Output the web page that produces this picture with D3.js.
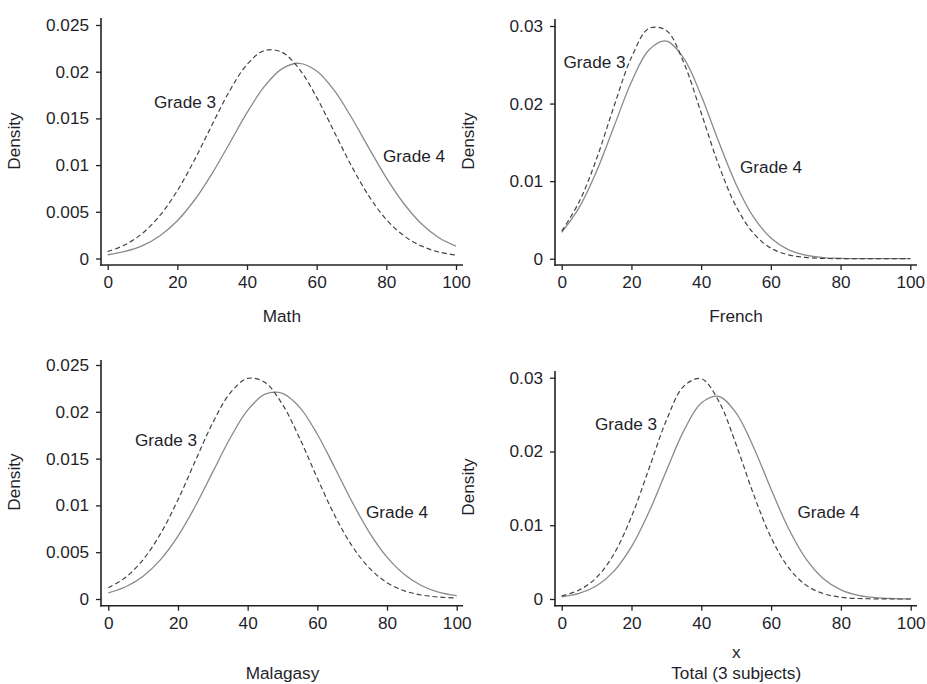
<!DOCTYPE html>
<html>
<head>
<meta charset="utf-8">
<script src="https://cdn.jsdelivr.net/npm/d3@7"></script>
<style>
  html, body { margin: 0; padding: 0; background: #fff; }
  svg { display: block; font-family: "Liberation Sans", Arial, sans-serif; }
</style>
</head>
<body>
<svg id="chart" width="927" height="684"></svg>
<script>
// ---- Data ----
const scoreGrid = [0,5,10,15,20,25,30,35,40,45,50,55,60,65,70,75,80,85,90,95,100];
const xTicks = [0, 20, 40, 60, 80, 100];

const mathGrade3 = [0.00074,0.00147,0.00271,0.00461,0.00727,0.01061,0.01434,0.01794,0.02077,0.02226,0.02209,0.02029,0.01725,0.01359,0.00990,0.00668,0.00417,0.00245,0.00135,0.00070,0.00036];
const mathGrade4 = [0.00040,0.00075,0.00137,0.00244,0.00405,0.00629,0.00912,0.01234,0.01561,0.01842,0.02030,0.02090,0.02008,0.01802,0.01510,0.01182,0.00863,0.00589,0.00375,0.00225,0.00132];

const frenchGrade3 = [0.00355,0.00732,0.01288,0.01964,0.02594,0.02968,0.02943,0.02528,0.01881,0.01213,0.00677,0.00328,0.00137,0.00050,0.00016,0.00004,0.00001,0,0,0,0];
const frenchGrade4 = [0.00339,0.00658,0.01127,0.01704,0.02278,0.02690,0.02806,0.02585,0.02104,0.01513,0.00961,0.00539,0.00267,0.00117,0.00045,0.00015,0.00005,0.00001,0,0,0];

const malagasyGrade3 = [0.00120,0.00232,0.00421,0.00698,0.01061,0.01477,0.01884,0.02201,0.02357,0.02312,0.02078,0.01711,0.01290,0.00892,0.00565,0.00328,0.00174,0.00087,0.00042,0.00020,0.00011];
const malagasyGrade4 = [0.00066,0.00131,0.00244,0.00421,0.00672,0.00993,0.01358,0.01720,0.02017,0.02188,0.02198,0.02045,0.01760,0.01403,0.01036,0.00707,0.00447,0.00262,0.00142,0.00071,0.00036];

const totalGrade3 = [0.00043,0.00121,0.00292,0.00613,0.01117,0.01765,0.02422,0.02886,0.02986,0.02682,0.02091,0.01416,0.00832,0.00425,0.00188,0.00072,0.00024,0.00007,0.00002,0,0];
const totalGrade4 = [0.00030,0.00075,0.00179,0.00378,0.00709,0.01179,0.01739,0.02282,0.02657,0.02747,0.02521,0.02055,0.01488,0.00956,0.00545,0.00276,0.00124,0.00050,0.00018,0.00006,0.00002];

const yTicksSmall = [0, 0.005, 0.01, 0.015, 0.02, 0.025];
const yTicksLarge = [0, 0.01, 0.02, 0.03];
const yTickLabelsSmall = ["0", "0.005", "0.01", "0.015", "0.02", "0.025"];
const yTickLabelsLarge = ["0", "0.01", "0.02", "0.03"];

const panelTitles = ["Math", "French", "Malagasy", "Total (3 subjects)"];
const seriesLabels = ["Grade 3", "Grade 4"];

// ---- Layout ----
const panels = [
  { g3: mathGrade3, g4: mathGrade4, yTicks: yTicksSmall, yLabels: yTickLabelsSmall,
    x0: 107.7, x1: 456, yZero: 258.5, yTopVal: 0.025, yTop: 25,
    axisX: 101, axisY: 265, axisTop: 18, axisRight: 463,
    title: panelTitles[0], titleY: 321.5, extraX: null,
    lab3: [154, 107.5], lab4: [383, 161.5], densY: 141 },
  { g3: frenchGrade3, g4: frenchGrade4, yTicks: yTicksLarge, yLabels: yTickLabelsLarge,
    x0: 561.7, x1: 910.3, yZero: 258.7, yTopVal: 0.03, yTop: 26,
    axisX: 555, axisY: 265, axisTop: 19, axisRight: 917,
    title: panelTitles[1], titleY: 321.5, extraX: null,
    lab3: [563.5, 67.5], lab4: [740, 172.5], densY: 141 },
  { g3: malagasyGrade3, g4: malagasyGrade4, yTicks: yTicksSmall, yLabels: yTickLabelsSmall,
    x0: 108.3, x1: 456.7, yZero: 599, yTopVal: 0.025, yTop: 365,
    axisX: 101, axisY: 605.7, axisTop: 360, axisRight: 463,
    title: panelTitles[2], titleY: 679, extraX: null,
    lab3: [135, 445.5], lab4: [366, 518], densY: 482 },
  { g3: totalGrade3, g4: totalGrade4, yTicks: yTicksLarge, yLabels: yTickLabelsLarge,
    x0: 561.7, x1: 910.7, yZero: 599, yTopVal: 0.03, yTop: 377.7,
    axisX: 555, axisY: 605.7, axisTop: 371, axisRight: 917,
    title: panelTitles[3], titleY: 679, extraX: "x",
    lab3: [595, 429.5], lab4: [797.5, 517.5], densY: 487 }
];

const svg = d3.select("#chart");
const textColor = "#1f1f2b";
const fontSize = 17.2;

panels.forEach(p => {
  const x = d3.scaleLinear().domain([0, 100]).range([p.x0, p.x1]);
  const y = d3.scaleLinear().domain([0, p.yTopVal]).range([p.yZero, p.yTop]);
  const g = svg.append("g");

  // axis lines (detached frame style)
  g.append("line").attr("x1", p.axisX).attr("x2", p.axisX)
    .attr("y1", p.axisTop).attr("y2", p.axisY + 0.75)
    .attr("stroke", "#222").attr("stroke-width", 1.6);
  g.append("line").attr("x1", p.axisX - 0.75).attr("x2", p.axisRight)
    .attr("y1", p.axisY).attr("y2", p.axisY)
    .attr("stroke", "#222").attr("stroke-width", 1.6);

  // x axis ticks via d3 axis
  const xAxis = d3.axisBottom(x).tickValues(xTicks).tickSize(5).tickPadding(6).tickFormat(d3.format("d"));
  const gx = g.append("g").attr("transform", `translate(0,${p.axisY})`).call(xAxis);
  gx.select(".domain").remove();
  gx.selectAll(".tick line").attr("stroke", "#222").attr("stroke-width", 1.3);
  gx.selectAll(".tick text").attr("fill", textColor).style("font-size", fontSize + "px")
    .style("font-family", "Liberation Sans, Arial, sans-serif");

  // y axis ticks via d3 axis
  const yAxis = d3.axisLeft(y).tickValues(p.yTicks).tickSize(5).tickPadding(7)
    .tickFormat((d, i) => p.yLabels[i]);
  const gy = g.append("g").attr("transform", `translate(${p.axisX},0)`).call(yAxis);
  gy.select(".domain").remove();
  gy.selectAll(".tick line").attr("stroke", "#222").attr("stroke-width", 1.3);
  gy.selectAll(".tick text").attr("fill", textColor).style("font-size", fontSize + "px")
    .style("font-family", "Liberation Sans, Arial, sans-serif");

  // curves
  const line = d3.line()
    .x((d, i) => x(scoreGrid[i]))
    .y(d => y(d))
    .curve(d3.curveCatmullRom.alpha(0.5));

  g.append("path").datum(p.g4).attr("d", line)
    .attr("fill", "none").attr("stroke", "#8a8a8a").attr("stroke-width", 1.3);
  g.append("path").datum(p.g3).attr("d", line)
    .attr("fill", "none").attr("stroke", "#444").attr("stroke-width", 1.2)
    .attr("stroke-dasharray", "5,3");

  // curve labels
  g.append("text").attr("x", p.lab3[0]).attr("y", p.lab3[1])
    .attr("fill", textColor).style("font-size", fontSize + "px").text(seriesLabels[0]);
  g.append("text").attr("x", p.lab4[0]).attr("y", p.lab4[1])
    .attr("fill", textColor).style("font-size", fontSize + "px").text(seriesLabels[1]);

  // Density axis title
  const dx = p.axisX - 81;
  g.append("text")
    .attr("transform", `translate(${dx},${p.densY}) rotate(-90)`)
    .attr("text-anchor", "middle")
    .attr("fill", textColor).style("font-size", fontSize + "px").text("Density");

  // x titles
  const cx = (p.x0 + p.x1) / 2;
  if (p.extraX) {
    g.append("text").attr("x", cx).attr("y", 658).attr("text-anchor", "middle")
      .attr("fill", textColor).style("font-size", fontSize + "px").text(p.extraX);
  }
  g.append("text").attr("x", cx).attr("y", p.titleY).attr("text-anchor", "middle")
    .attr("fill", textColor).style("font-size", fontSize + "px").text(p.title);
});
</script>
</body>
</html>
